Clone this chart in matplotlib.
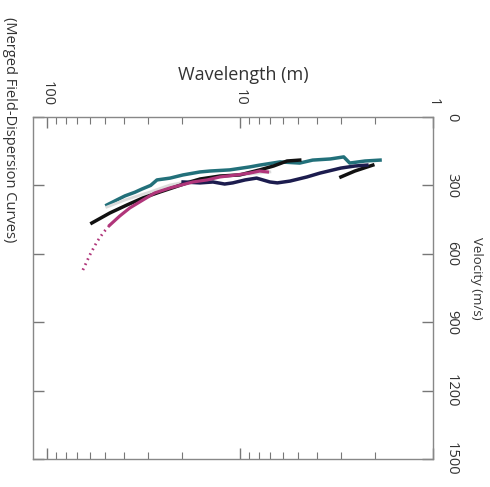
import numpy as np
import matplotlib.pyplot as plt
from matplotlib.ticker import FixedLocator, FixedFormatter, NullFormatter

plt.rcParams['font.family'] = ['Open Sans', 'DejaVu Sans']

# dispersion curves: wavelength (m), phase velocity (m/s)
teal_wl = [48.9, 43.0, 39.4, 35.0, 32.2, 29.0, 26.9, 23.0, 19.7, 16.1, 14.3, 11.3, 8.9, 7.9, 6.2, 5.4, 4.9, 4.2, 3.4, 2.9, 2.7, 2.25, 1.88]
teal_v = [386, 362, 346, 330, 316, 300, 276, 268, 254, 241, 237, 232, 219, 211, 197, 200, 202, 189, 184, 175, 202, 193, 189]

gray_wl = [48.9, 39.4, 29.3, 23.0, 18.2, 12.7, 8.9, 7.0]
gray_v = [395, 364, 329, 298, 281, 259, 250, 241]

black_wl = [58.5, 47.2, 38.5, 31.8, 26.0, 21.7, 18.8, 16.1, 12.7, 10.0, 9.2, 7.9, 6.7, 5.7, 4.9]
black_v = [465, 421, 386, 355, 329, 307, 289, 272, 259, 254, 246, 232, 215, 193, 189]
black2_wl = [3.0, 2.54, 2.05]
black2_v = [263, 237, 211]

navy_wl = [19.7, 16.1, 13.8, 12.0, 10.9, 9.4, 8.2, 7.0, 6.4, 5.5, 4.5, 3.85, 3.0, 2.54, 2.2]
navy_v = [285, 289, 285, 294, 289, 276, 268, 285, 289, 281, 263, 246, 224, 215, 211]

pink_dot_wl = [65.1, 59.9, 55.1, 50.7, 47.2]
pink_dot_v = [671, 605, 548, 504, 474]
pink_wl = [47.2, 41.9, 37.2, 31.8, 27.6, 23.0, 17.5, 14.8, 12.7, 10.4, 8.9, 7.9, 7.2]
pink_v = [474, 434, 399, 364, 333, 311, 285, 276, 263, 254, 246, 237, 241]

major_wl = [100, 10, 1]
major_lbl = ['100', '10', '1']
vel_ticks = [0, 300, 600, 900, 1200, 1500]

fig = plt.figure(figsize=(4.9, 4.87), dpi=100)
ax = fig.add_axes([33/490, 1 - 459/487, 400/490, 342/487])

ax.plot(teal_wl, teal_v, color='#22707a', lw=2.5)
ax.plot(gray_wl, gray_v, color='#dcdcdc', lw=2.0)
ax.plot(black_wl, black_v, color='#111111', lw=2.5)
ax.plot(black2_wl, black2_v, color='#111111', lw=2.5)
ax.plot(navy_wl, navy_v, color='#1c1c4e', lw=2.5)
ax.plot(pink_wl, pink_v, color='#b0357a', lw=2.3)
ax.plot(pink_dot_wl, pink_dot_v, color='#b0357a', lw=2.0, linestyle=(0, (0.6, 1.4)))

ax.set_xscale('log')
ax.set_xlim(118, 1)
ax.set_ylim(1500, 0)

ax.xaxis.set_major_locator(FixedLocator(major_wl))
ax.xaxis.set_major_formatter(FixedFormatter(major_lbl))
ax.xaxis.set_minor_formatter(NullFormatter())
ax.set_yticks(vel_ticks)

ax.tick_params(which='both', direction='in', top=True, bottom=True, left=True, right=True,
               labeltop=True, labelbottom=False, labelleft=False, labelright=True,
               colors='#777777', labelcolor='#333333', labelsize=10.5, pad=8)
ax.tick_params(which='major', length=8, width=1)
ax.tick_params(which='minor', length=5, width=0.8)
for lbl in ax.get_xticklabels():
    lbl.set_rotation(-90)
    lbl.set_va('bottom')
for lbl in ax.get_yticklabels():
    lbl.set_rotation(-90)
    lbl.set_ha('left')
    lbl.set_va('center')
for s in ax.spines.values():
    s.set_color('#888888')
    s.set_linewidth(1)

fig.text(243/490, 1 - 75/487, 'Wavelength (m)', ha='center', va='center', fontsize=13, color='#333333')
fig.text(476/490, 1 - 278/487, 'Velocity (m/s)', ha='center', va='center', rotation=-90, fontsize=9.5, color='#333333')
fig.text(9/490, 1 - 17/487, '(Merged Field-Dispersion Curves)', ha='center', va='top', rotation=-90, fontsize=10.5, color='#333333')

fig.savefig('out.png', dpi=100)
